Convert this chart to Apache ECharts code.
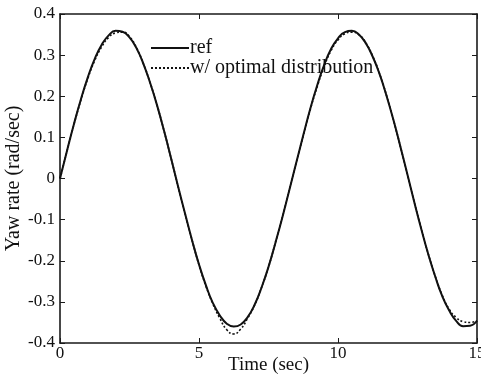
<!DOCTYPE html>
<html>
<head>
<meta charset="utf-8">
<script src="https://cdn.jsdelivr.net/npm/echarts@6/dist/echarts.min.js"></script>
<style>
  html, body { margin: 0; padding: 0; background: #fff; }
  #chart { width: 481px; height: 378px; }
</style>
</head>
<body>
<div id="chart"></div>
<script>
// time samples (sec), every 0.25 s
var timeSec = [];
for (var i = 0; i <= 60; i++) timeSec.push(i * 0.25);

// yaw rate reference (rad/sec)
var refYaw = [
  0, 0.067, 0.132, 0.192, 0.246, 0.291, 0.325, 0.348, 0.359, 0.357,
  0.343, 0.317, 0.279, 0.231, 0.176, 0.114, 0.048, -0.020, -0.086, -0.150,
  -0.209, -0.260, -0.303, -0.333, -0.353, -0.360, -0.355, -0.337, -0.307, -0.265,
  -0.215, -0.156, -0.094, -0.028, 0.039, 0.105, 0.169, 0.226, 0.276, 0.315,
  0.341, 0.356, 0.359, 0.350, 0.329, 0.296, 0.253, 0.200, 0.141, 0.076,
  0.009, -0.059, -0.124, -0.185, -0.239, -0.286, -0.321, -0.346, -0.359, -0.358,
  -0.346
];

// yaw rate with optimal distribution
var optYaw = [
  0, 0.066, 0.131, 0.190, 0.243, 0.287, 0.320, 0.343, 0.354, 0.356,
  0.345, 0.318, 0.279, 0.231, 0.176, 0.114, 0.048, -0.020, -0.086, -0.150,
  -0.210, -0.262, -0.305, -0.340, -0.368, -0.378, -0.366, -0.340, -0.308, -0.265,
  -0.215, -0.156, -0.094, -0.028, 0.039, 0.104, 0.167, 0.223, 0.272, 0.311,
  0.337, 0.352, 0.356, 0.350, 0.330, 0.297, 0.254, 0.201, 0.141, 0.076,
  0.009, -0.059, -0.123, -0.184, -0.238, -0.284, -0.318, -0.338, -0.348, -0.350,
  -0.346
];

var xTicks = [0, 5, 10, 15];
var yTicks = [-0.4, -0.3, -0.2, -0.1, 0, 0.1, 0.2, 0.3, 0.4];

var FONT = "Liberation Serif";

function pairs(ys) {
  return timeSec.map(function (t, k) { return [t, ys[k]]; });
}

var chart = echarts.init(document.getElementById("chart"));

var axisLine = { show: true, onZero: false, lineStyle: { color: "#1a1a1a", width: 1.6 } };
var axisTick = { show: true, inside: true, length: 5, lineStyle: { color: "#1a1a1a", width: 1 } };

chart.setOption({
  backgroundColor: "#fff",
  animation: false,
  grid: { left: 60, right: 4, top: 14, bottom: 35, containLabel: false, outerBoundsMode: "none" },
  legend: {
    orient: "vertical",
    left: 145,
    top: 33,
    itemWidth: 38,
    itemHeight: 20,
    itemGap: 0,
    itemStyle: { opacity: 0 },
    textStyle: { fontFamily: FONT, fontSize: 20, color: "#111", padding: [0, 0, 0, -4] },
    data: ["ref", "w/ optimal distribution"]
  },
  xAxis: [
    {
      type: "value", min: xTicks[0], max: xTicks[xTicks.length - 1], interval: 5,
      position: "bottom",
      name: "Time (sec)", nameLocation: "middle", nameGap: 13, nameMoveOverlap: false,
      nameTextStyle: { fontFamily: FONT, fontSize: 19, color: "#111" },
      axisLine: axisLine, axisTick: axisTick,
      axisLabel: { fontFamily: FONT, fontSize: 17, color: "#111", margin: 2 },
      splitLine: { show: false }
    },
    {
      type: "value", min: xTicks[0], max: xTicks[xTicks.length - 1], interval: 5,
      position: "top",
      axisLine: axisLine, axisTick: axisTick,
      axisLabel: { show: false }, splitLine: { show: false }
    }
  ],
  yAxis: [
    {
      type: "value", min: yTicks[0], max: yTicks[yTicks.length - 1], interval: 0.1,
      position: "left",
      name: "Yaw rate (rad/sec)", nameLocation: "middle", nameGap: 36, nameMoveOverlap: false,
      nameTextStyle: { fontFamily: FONT, fontSize: 20, color: "#111" },
      axisLine: axisLine, axisTick: axisTick,
      axisLabel: {
        fontFamily: FONT, fontSize: 17, color: "#111", margin: 5,
        formatter: function (v) { var r = Math.round(v * 10) / 10; return r === 0 ? "0" : r.toFixed(1); }
      },
      splitLine: { show: false }
    },
    {
      type: "value", min: yTicks[0], max: yTicks[yTicks.length - 1], interval: 0.1,
      position: "right",
      axisLine: axisLine, axisTick: axisTick,
      axisLabel: { show: false }, splitLine: { show: false }
    }
  ],
  series: [
    {
      name: "ref", type: "line", data: pairs(refYaw), smooth: true,
      showSymbol: false, symbol: "none", z: 3,
      itemStyle: { color: "#111" },
      lineStyle: { color: "#111", width: 2 }
    },
    {
      name: "w/ optimal distribution", type: "line", data: pairs(optYaw), smooth: true,
      showSymbol: false, symbol: "none", z: 2,
      itemStyle: { color: "#111" },
      lineStyle: { color: "#111", width: 1.6, type: [2, 2] }
    }
  ]
});
</script>
</body>
</html>
